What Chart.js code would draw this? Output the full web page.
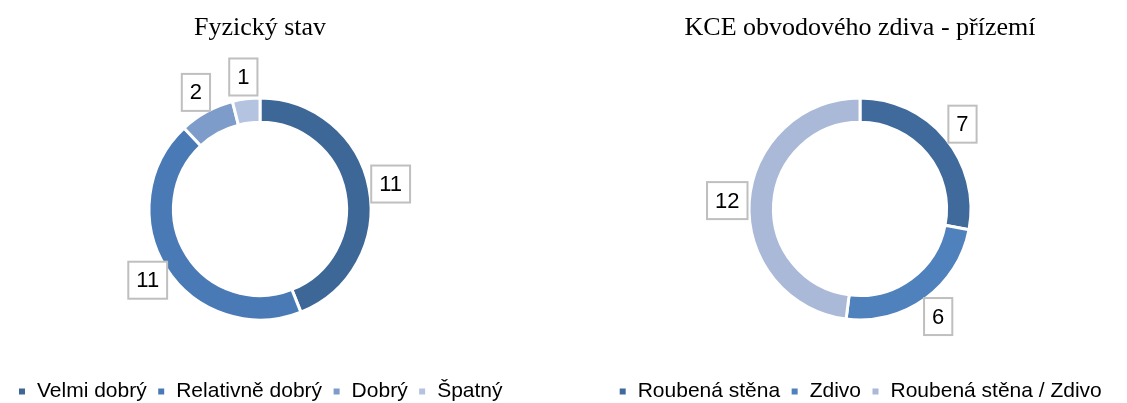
<!DOCTYPE html>
<html>
<head>
<meta charset="utf-8">
<script src="https://cdn.jsdelivr.net/npm/chart.js@4"></script>
<style>
  html, body { margin: 0; padding: 0; background: #fff; overflow: hidden; }
  .box { position: absolute; top: 0; height: 412px; }
  #left { left: 0; width: 520px; }
  #right { left: 596px; width: 528px; }
</style>
</head>
<body>
<div class="box" id="left"><canvas id="stavChart"></canvas></div>
<div class="box" id="right"><canvas id="kceChart"></canvas></div>
<script>
// data
var stavLabels = ['Velmi dobrý', 'Relativně dobrý', 'Dobrý', 'Špatný'];
var stavValues = [11, 11, 2, 1];
var stavColors = ['#3d6797', '#4a7ab5', '#7e9cc9', '#b3c3e0'];

var kceLabels = ['Roubená stěna', 'Zdivo', 'Roubená stěna / Zdivo'];
var kceValues = [7, 6, 12];
var kceColors = ['#3f6a9b', '#4f81bd', '#a9b9d7'];

var sans = '"Liberation Sans", Arial, sans-serif';

// draws boxed value labels just outside each arc
var boxLabels = {
    id: 'boxLabels',
    afterDatasetsDraw: function (chart) {
        var ctx = chart.ctx;
        var meta = chart.getDatasetMeta(0);
        var values = chart.data.datasets[0].data;
        ctx.save();
        ctx.font = '22px ' + sans;
        ctx.textAlign = 'center';
        ctx.textBaseline = 'middle';
        meta.data.forEach(function (arc, i) {
            var mid = (arc.startAngle + arc.endAngle) / 2;
            var r = arc.outerRadius + 22;
            var x = arc.x + Math.cos(mid) * r;
            var y = arc.y + Math.sin(mid) * r;
            var txt = String(values[i]);
            var w = ctx.measureText(txt).width + 16;
            var h = 37;
            ctx.fillStyle = '#fff';
            ctx.fillRect(x - w / 2, y - h / 2, w, h);
            ctx.strokeStyle = '#bfbfbf';
            ctx.lineWidth = 2;
            ctx.strokeRect(x - w / 2, y - h / 2, w, h);
            ctx.fillStyle = '#000';
            ctx.fillText(txt, x, y + 1);
        });
        ctx.restore();
    }
};

function makeDoughnut(id, title, labels, values, colors) {
    var ctx = document.getElementById(id).getContext('2d');
    return new Chart(ctx, {
        type: 'doughnut',
        data: {
            labels: labels,
            datasets: [{
                data: values,
                backgroundColor: colors,
                borderColor: '#fff',
                borderWidth: 3
            }]
        },
        options: {
            responsive: true,
            maintainAspectRatio: false,
            animation: false,
            radius: 111,
            cutout: '78%',
            layout: { padding: 0 },
            plugins: {
                title: {
                    display: true,
                    text: title,
                    color: '#000',
                    font: { family: '"Liberation Serif", "Times New Roman", serif', size: 26, weight: 'normal', lineHeight: 1.15 },
                    padding: { top: 13, bottom: 4 }
                },
                legend: {
                    position: 'bottom',
                    labels: {
                        color: '#000',
                        font: { family: sans, size: 21 },
                        boxWidth: 9,
                        boxHeight: 9,
                        padding: 10
                    }
                },
                tooltip: { enabled: false }
            }
        },
        plugins: [boxLabels]
    });
}

makeDoughnut('stavChart', 'Fyzický stav', stavLabels, stavValues, stavColors);
makeDoughnut('kceChart', 'KCE obvodového zdiva - přízemí', kceLabels, kceValues, kceColors);
</script>
</body>
</html>
